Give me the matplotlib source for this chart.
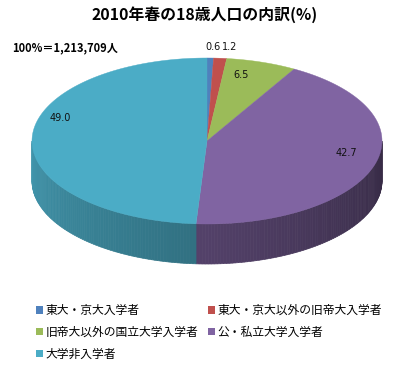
import numpy as np
import matplotlib.pyplot as plt
from matplotlib.patches import Polygon, Rectangle
from matplotlib.colors import to_rgb

plt.rcParams['font.family'] = ['Noto Sans CJK JP', 'DejaVu Sans']

# データ
categories = ['東大・京大入学者', '東大・京大以外の旧帝大入学者', '旧帝大以外の国立大学入学者',
              '公・私立大学入学者', '大学非入学者']
shares = [0.6, 1.2, 6.5, 42.7, 49.0]
total_people = '1,213,709'
title = '2010年春の18歳人口の内訳(%)'

colors = ['#4F81BD', '#C0504D', '#9BBB59', '#8064A2', '#4BACC6']
# ラベルの微調整 (px)
label_r = [1.12, 1.12, 0.84, 0.84, 0.84]
label_nudge = [(2, -1), (8, -1), (-12, 0), (-1, -8), (0, -21)]

W, H = 395, 372
fig = plt.figure(figsize=(W / 100, H / 100), dpi=100)
ax = fig.add_axes([0, 0, 1, 1])
ax.set_xlim(0, W)
ax.set_ylim(H, 0)
ax.axis('off')

# 3D円グラフの形
cx, cy, rx, ry, depth = 207, 141, 175, 83, 40


def pt(theta, r=1.0):
    t = np.radians(theta)
    return cx + r * rx * np.sin(t), cy - r * ry * np.cos(t)


bounds = np.concatenate([[0], np.cumsum(shares)]) / sum(shares) * 360

# 側面
for i, c in enumerate(colors):
    t1, t2 = bounds[i], bounds[i + 1]
    lo, hi = max(t1, 90), min(t2, 270)
    if lo >= hi:
        continue
    steps = np.linspace(lo, hi, int(hi - lo) + 2)
    for a, b in zip(steps[:-1], steps[1:]):
        m = (a + b) / 2
        f = 0.42 + 0.45 * (m - 90) / 180
        col = np.array(to_rgb(c)) * f
        xa, ya = pt(a)
        xb, yb = pt(b)
        ax.add_patch(Polygon([(xa, ya), (xb, yb), (xb, yb + depth), (xa, ya + depth)],
                             closed=True, fc=col, ec=col, lw=0.5, zorder=1))

# 上面
for i, c in enumerate(colors):
    t1, t2 = bounds[i], bounds[i + 1]
    ts = np.linspace(t1, t2, max(int((t2 - t1) * 2), 2) + 1)
    xs, ys = pt(ts)
    ax.add_patch(Polygon(np.column_stack([np.r_[cx, xs], np.r_[cy, ys]]),
                         closed=True, fc=c, ec=c, lw=0.3, zorder=2))

# 数値ラベル
for i, v in enumerate(shares):
    mid = (bounds[i] + bounds[i + 1]) / 2
    x, y = pt(mid, label_r[i])
    dx, dy = label_nudge[i]
    ax.text(x + dx, y + dy, f'{v:.1f}', ha='center', va='center', fontsize=7,
            family='DejaVu Sans', color='#111111', zorder=3)

ax.text(205, 15, title, ha='center', va='center', fontsize=11.4, fontweight='bold')
ax.text(12, 48, f'100%＝{total_people}人', ha='left', va='center', fontsize=8,
        fontweight='bold')

# 凡例 (行方向に並べる)
handles = [Rectangle((0, 0), 1, 1, fc=c, ec='none') for c in colors]
order = [0, 2, 4, 1, 3]
ax.legend([handles[k] for k in order], [categories[k] for k in order], ncol=2,
          loc='upper left', bbox_to_anchor=(36 / W, 1 - 304 / H), frameon=False,
          fontsize=8.5, handlelength=0.6, handleheight=0.6, handletextpad=0.2,
          columnspacing=0.8, labelspacing=0.74, borderpad=0, borderaxespad=0)

fig.savefig('out.png', dpi=100)
